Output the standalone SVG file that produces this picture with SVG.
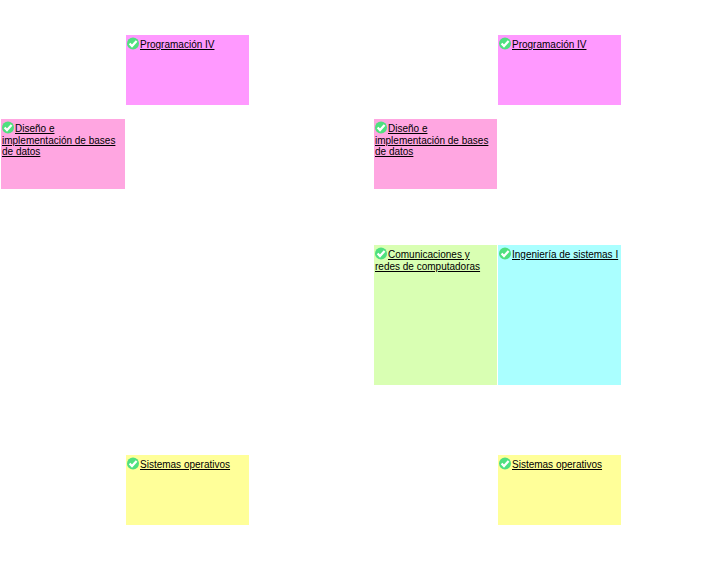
<svg xmlns="http://www.w3.org/2000/svg" width="721" height="578" viewBox="0 0 721 578">
<style>
text{font-family:"Liberation Sans",Arial,sans-serif;font-size:10px;fill:#000;text-decoration:underline}
</style>
<defs>
<g id="ok"><circle cx="6" cy="6" r="6" fill="#4fe07f"/><path d="M2.6 6L5 8.6L9.6 3.4" fill="none" stroke="#fff" stroke-width="2.2"/></g>
</defs>
<rect width="721" height="578" fill="#fff"/>
<g id="n1"><rect x="126" y="35" width="123" height="70" fill="#ff99ff"/><use href="#ok" x="127" y="37.5"/><text x="140" y="48">Programación IV</text></g>
<g id="n2"><rect x="1" y="119" width="124" height="70" fill="#ffa6e1"/><use href="#ok" x="2" y="121.5"/><text x="15" y="132">Diseño e</text><text x="2" y="144">implementación de bases</text><text x="2" y="155">de datos</text></g>
<g id="n3"><rect x="126" y="455" width="123" height="70" fill="#ffff99"/><use href="#ok" x="127" y="457.5"/><text x="140" y="468">Sistemas operativos</text></g>
<g id="n4"><rect x="498" y="35" width="123" height="70" fill="#ff99ff"/><use href="#ok" x="499" y="37.5"/><text x="512" y="48">Programación IV</text></g>
<g id="n5"><rect x="374" y="119" width="123" height="70" fill="#ffa6e1"/><use href="#ok" x="375" y="121.5"/><text x="388" y="132">Diseño e</text><text x="375" y="144">implementación de bases</text><text x="375" y="155">de datos</text></g>
<g id="n6"><rect x="374" y="245" width="123" height="140" fill="#d9ffb3"/><use href="#ok" x="375" y="247.5"/><text x="388" y="258">Comunicaciones y</text><text x="375" y="270">redes de computadoras</text></g>
<g id="n7"><rect x="498" y="245" width="123" height="140" fill="#aaffff"/><use href="#ok" x="499" y="247.5"/><text x="512" y="258">Ingeniería de sistemas I</text></g>
<g id="n8"><rect x="498" y="455" width="123" height="70" fill="#ffff99"/><use href="#ok" x="499" y="457.5"/><text x="512" y="468">Sistemas operativos</text></g>
<g id="connectors"/>
</svg>
